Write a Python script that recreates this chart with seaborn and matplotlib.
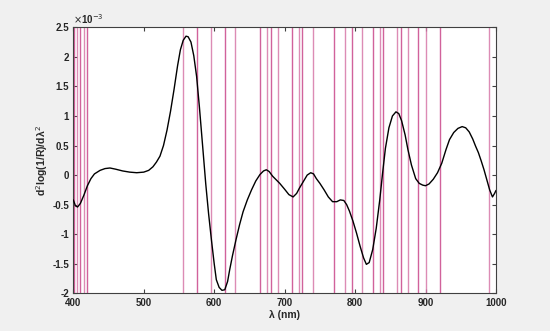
import numpy as np
import pandas as pd
import seaborn as sns
import matplotlib.pyplot as plt

# second derivative spectrum, values in units of 1e-3
wavelength = [400, 403, 406, 410, 415, 420, 425, 430, 438, 445, 452, 460, 470, 480, 490,
              500, 507, 513, 518, 523, 528, 533, 538, 543, 548, 552, 556, 560, 563, 567,
              571, 575, 579, 584, 588, 592, 596, 600, 603, 607, 611, 615, 619, 622, 626,
              631, 636, 641, 647, 653, 659, 665, 670, 674, 678, 683, 688, 693, 700, 706,
              712, 717, 721, 727, 732, 737, 741, 745, 750, 756, 762, 768, 774, 779, 784,
              788, 792, 797, 802, 807, 812, 816, 820, 825, 830, 835, 839, 843, 848, 853,
              858, 862, 866, 871, 875, 880, 886, 891, 896, 900, 905, 911, 917, 923, 929,
              934, 940, 946, 952, 957, 962, 967, 971, 975, 979, 983, 987, 991, 995, 998, 1000]
d2_e3 = [-0.42, -0.52, -0.54, -0.48, -0.34, -0.18, -0.06, 0.02, 0.08, 0.11, 0.12, 0.10, 0.07, 0.05, 0.04,
         0.05, 0.08, 0.14, 0.22, 0.32, 0.50, 0.76, 1.08, 1.45, 1.85, 2.12, 2.28, 2.35, 2.34, 2.25,
         2.02, 1.67, 1.15, 0.43, -0.15, -0.65, -1.09, -1.50, -1.77, -1.90, -1.95, -1.94, -1.80, -1.60, -1.36,
         -1.09, -0.84, -0.62, -0.42, -0.25, -0.10, 0.01, 0.07, 0.09, 0.06, -0.02, -0.08, -0.14, -0.24, -0.33,
         -0.37, -0.31, -0.22, -0.10, 0.00, 0.04, 0.02, -0.06, -0.14, -0.25, -0.37, -0.45, -0.45, -0.42, -0.43,
         -0.50, -0.61, -0.78, -0.98, -1.20, -1.40, -1.51, -1.48, -1.26, -0.90, -0.42, 0.03, 0.45, 0.80, 1.00,
         1.07, 1.04, 0.92, 0.68, 0.43, 0.17, -0.06, -0.14, -0.17, -0.18, -0.15, -0.07, 0.04, 0.20, 0.43,
         0.60, 0.72, 0.79, 0.82, 0.80, 0.73, 0.61, 0.49, 0.38, 0.24, 0.09, -0.08, -0.25, -0.37, -0.31, -0.26]

# selected wavelengths (vertical markers)
selected = [401, 405, 410, 415, 420, 555, 575, 595, 615, 630, 665, 675, 680, 690, 710,
            720, 725, 740, 770, 785, 795, 810, 825, 835, 840, 860, 865, 875, 890, 900,
            920, 990]

xticks = [400, 500, 600, 700, 800, 900, 1000]
yticks = [-2, -1.5, -1, -0.5, 0, 0.5, 1, 1.5, 2, 2.5]

df = pd.DataFrame({'wl': wavelength, 'd2': d2_e3})

sns.set_style('ticks')
plt.rcParams['font.family'] = ['Liberation Sans', 'DejaVu Sans']

fig = plt.figure(figsize=(5.5, 3.31), dpi=100, facecolor='#f0f0f0')
ax = fig.add_axes([0.1333, 0.1139, 0.7685, 0.8036])
ax.set_facecolor('white')

for i, w in enumerate(selected):
    ax.axvline(w, color='#c9468a' if i % 2 == 0 else '#d678a8', lw=1, alpha=0.85, zorder=1)

sns.lineplot(data=df, x='wl', y='d2', color='black', lw=1, ax=ax, zorder=3)

ax.set_xlim(400, 1000)
ax.set_ylim(-2, 2.5)
ax.set_xticks(xticks)
ax.set_yticks(yticks)
ax.set_xticklabels([str(t) for t in xticks], fontsize=7, fontweight='bold', color='#262626')
ax.set_yticklabels(['%g' % t for t in yticks], fontsize=7, fontweight='bold', color='#262626')
ax.tick_params(direction='in', length=3, width=0.8, top=True, right=True, color='#404040', pad=2)
ax.tick_params(axis='x', pad=3.5)
ax.tick_params(axis='y', pad=3)
for s in ax.spines.values():
    s.set_color('#404040')
    s.set_linewidth(0.8)

ax.set_xlabel('λ (nm)', fontsize=7.5, fontweight='bold', labelpad=1)
ax.set_ylabel(r'd$^2$log(1/R)/dλ$^2$', fontsize=7.5, fontweight='bold', labelpad=2)
ax.text(0.0, 1.005, r'$\times$10$^{-3}$', transform=ax.transAxes, fontsize=7,
        fontweight='bold', ha='left', va='bottom', color='#262626')

fig.savefig('out.png', dpi=100, facecolor=fig.get_facecolor())
